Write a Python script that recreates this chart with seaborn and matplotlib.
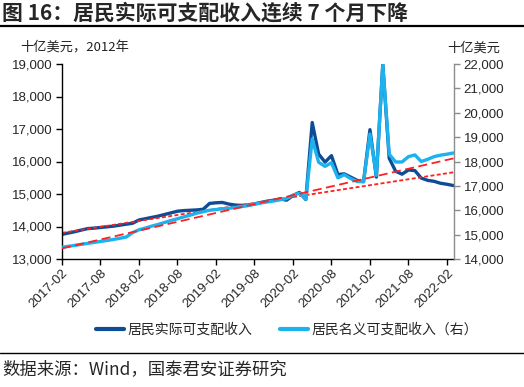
import matplotlib
matplotlib.use("Agg")
import matplotlib.pyplot as plt
import seaborn as sns
import numpy as np
import pandas as pd

# ---- data (monthly) ----
real_income = [13756, 13800, 13840, 13890, 13935, 13950, 13970, 13990, 14010, 14040,
               14070, 14100, 14200, 14240, 14280, 14320, 14370, 14420, 14470, 14490,
               14500, 14510, 14530, 14710, 14730, 14740, 14690, 14660, 14650, 14660,
               14690, 14740, 14780, 14810, 14850, 14810, 14950, 15050, 14830, 17200,
               16230, 15980, 16180, 15600, 15620, 15520, 15420, 15380, 16980, 15520,
               18990, 16100, 15700, 15610, 15740, 15720, 15490, 15420, 15390, 15330,
               15300, 15260]
nominal_income = [14480, 14520, 14560, 14600, 14640, 14680, 14720, 14760, 14800, 14850,
                  14900, 15080, 15200, 15270, 15350, 15420, 15500, 15580, 15650, 15730,
                  15800, 15880, 15940, 16000, 16030, 16060, 16080, 16110, 16150, 16190,
                  16250, 16300, 16340, 16380, 16430, 16480, 16620, 16700, 16450, 18920,
                  17970, 17800, 17950, 17330, 17460, 17300, 17180, 17170, 19130, 17430,
                  21960, 18300, 17980, 17980, 18200, 18270, 18000, 18090, 18200, 18260,
                  18300, 18350]
real_trend_ends = [13805, 15671]      # dotted red, left axis
nominal_trend_ends = [14437, 18133]   # dashed red, right axis
x_ticklabels = ["2017-02", "2017-08", "2018-02", "2018-08", "2019-02", "2019-08",
                "2020-02", "2020-08", "2021-02", "2021-08", "2022-02"]
left_ticks = [13000, 14000, 15000, 16000, 17000, 18000, 19000]
right_ticks = [14000, 15000, 16000, 17000, 18000, 19000, 20000, 21000, 22000]

title = "图 16：居民实际可支配收入连续 7 个月下降"
left_unit = "十亿美元，2012年"
right_unit = "十亿美元"
label_real = "居民实际可支配收入"
label_nominal = "居民名义可支配收入（右）"
source = "数据来源：Wind，国泰君安证券研究"

sns.set_style("white")
plt.rcParams['font.family'] = ['Noto Sans CJK SC', 'DejaVu Sans']

DARK = "#0E4C96"
LIGHT = "#1CB2EE"
RED = "#FF2020"

n = len(real_income)
xpos = np.arange(n)
df = pd.DataFrame({"x": xpos, "real": real_income, "nominal": nominal_income})
x_end = n - 1 + 0.1
trend_x = [0, x_end]

fig = plt.figure(figsize=(5.24, 3.87), dpi=100)
ax = fig.add_axes([62/524, 1-259/387, (454-62)/524, (259-64)/387])
ax2 = ax.twinx()

sns.lineplot(data=df, x="x", y="real", ax=ax, color=DARK, lw=2.4, legend=False)
sns.lineplot(x=trend_x, y=real_trend_ends, ax=ax, color=RED, lw=1.3, linestyle=(0, (2.2, 1.3)), legend=False)
sns.lineplot(data=df, x="x", y="nominal", ax=ax2, color=LIGHT, lw=2.4, legend=False)
sns.lineplot(x=trend_x, y=nominal_trend_ends, ax=ax2, color=RED, lw=1.3, linestyle=(0, (5, 2.5)), legend=False)

ax.set_xlim(0, x_end)
ax.set_ylim(13000, 19000)
ax2.set_ylim(14000, 22000)
ax.set_xticks(np.arange(0, 61, 6))
ax.set_xticklabels(x_ticklabels, rotation=45, ha="right", rotation_mode="anchor",
                   fontsize=9.5, family="Liberation Sans")
ax.set_yticks(left_ticks)
ax.set_yticklabels([f"{v:,}" for v in left_ticks], fontsize=9.5, family="Liberation Sans")
ax2.set_yticks(right_ticks)
ax2.set_yticklabels([f"{v:,}" for v in right_ticks], fontsize=9.5, family="Liberation Sans")
ax.set_xlabel("")
ax.set_ylabel("")
ax2.set_ylabel("")

for a in (ax, ax2):
    a.grid(False)
    a.spines["top"].set_visible(False)
ax.spines["right"].set_visible(False)
ax.spines["left"].set_color("black")
ax.spines["bottom"].set_color("black")
ax.spines["left"].set_linewidth(1.0)
ax.spines["bottom"].set_linewidth(1.0)
ax2.spines["left"].set_visible(False)
ax2.spines["bottom"].set_visible(False)
ax2.spines["right"].set_color("#8C8C8C")
ax2.spines["right"].set_linewidth(1.0)
ax.tick_params(axis="x", direction="out", length=4, width=1, color="black", pad=2, bottom=True)
ax.tick_params(axis="y", direction="out", length=4, width=1, color="black", pad=3, left=True)
ax2.tick_params(axis="y", direction="out", length=4, width=1, color="#8C8C8C", pad=3, right=True)

# texts
fig.text(2/524, 1-13/387, title, fontsize=15, fontweight="bold", va="center", ha="left")
fig.add_artist(plt.Line2D([0, 1], [1-26/387, 1-26/387], color="black", lw=1.6))
fig.text(20/524, 1-48/387, left_unit, fontsize=9.5, va="center", ha="left", color="#222222")
fig.text(447/524, 1-48/387, right_unit, fontsize=9.5, va="center", ha="left", color="#222222")

h1 = plt.Line2D([], [], color=DARK, lw=3)
h2 = plt.Line2D([], [], color=LIGHT, lw=3)
fig.legend([h1, h2], [label_real, label_nominal], loc="center", bbox_to_anchor=(287/524, 1-330/387),
           ncol=2, frameon=False, fontsize=10, handlelength=2.0, columnspacing=2.0, handletextpad=0.25)

fig.add_artist(plt.Line2D([0, 1], [1-353/387, 1-353/387], color="black", lw=1.0))
fig.text(2/524, 1-369/387, source, fontsize=12.5, va="center", ha="left")

fig.savefig("out.png", dpi=100)
